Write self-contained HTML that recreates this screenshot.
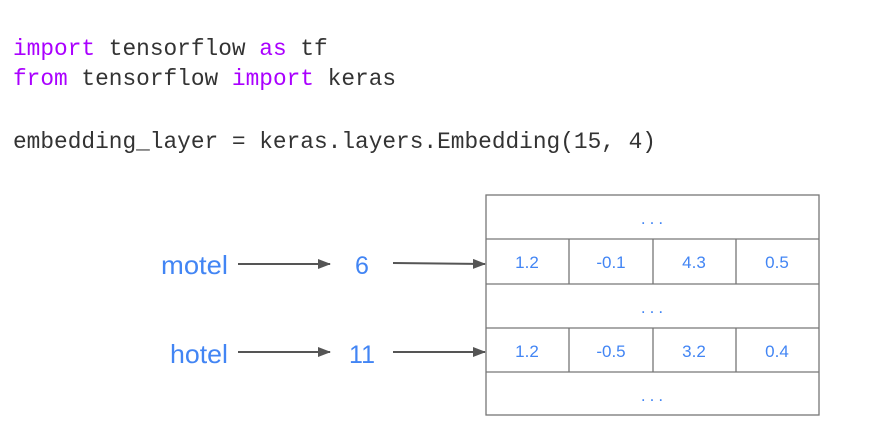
<!DOCTYPE html>
<html><head><meta charset="utf-8"><style>
html,body{margin:0;padding:0;background:#fff;}
svg{display:block}
.code{font-family:"Liberation Mono",monospace;font-size:22.8px;fill:#333}
.kw{fill:#aa00ff}
.b{font-family:"Liberation Sans",sans-serif;fill:#4285f4}
</style></head><body>
<svg width="889" height="444" viewBox="0 0 889 444" xmlns="http://www.w3.org/2000/svg">
<text class="code" x="13" y="55" xml:space="preserve"><tspan class="kw">import</tspan> tensorflow <tspan class="kw">as</tspan> tf</text>
<text class="code" x="13" y="85" xml:space="preserve"><tspan class="kw">from</tspan> tensorflow <tspan class="kw">import</tspan> keras</text>
<text class="code" x="13" y="148" xml:space="preserve">embedding_layer = keras.layers.Embedding(15, 4)</text>
<defs><marker id="a" markerWidth="13" markerHeight="10" refX="12" refY="5" orient="auto" markerUnits="userSpaceOnUse"><path d="M0,0 L13,5 L0,10 z" fill="#555"/></marker></defs>
<g stroke="#777" stroke-width="1.3" fill="none">
<rect x="486" y="195" width="333" height="220"/>
<line x1="486" y1="239" x2="819" y2="239"/>
<line x1="486" y1="284" x2="819" y2="284"/>
<line x1="486" y1="328" x2="819" y2="328"/>
<line x1="486" y1="372" x2="819" y2="372"/>
<line x1="569" y1="239" x2="569" y2="284"/><line x1="653" y1="239" x2="653" y2="284"/><line x1="736" y1="239" x2="736" y2="284"/>
<line x1="569" y1="328" x2="569" y2="372"/><line x1="653" y1="328" x2="653" y2="372"/><line x1="736" y1="328" x2="736" y2="372"/>
</g>
<g stroke="#555" stroke-width="2" marker-end="url(#a)">
<line x1="238" y1="264" x2="330" y2="264"/>
<line x1="393" y1="263" x2="485" y2="264"/>
<line x1="238" y1="352" x2="330" y2="352"/>
<line x1="393" y1="352" x2="485" y2="352"/>
</g>
<g class="b" font-size="26" text-anchor="end">
<text x="228" y="274" textLength="67" lengthAdjust="spacingAndGlyphs">motel</text>
<text x="228" y="363" textLength="58" lengthAdjust="spacingAndGlyphs">hotel</text>
</g>
<g class="b" font-size="25" text-anchor="middle">
<text x="362" y="274">6</text>
<text x="362" y="363">11</text>
</g>
<g class="b" font-size="17" text-anchor="middle">
<text x="527" y="268">1.2</text><text x="611" y="268">-0.1</text><text x="694" y="268">4.3</text><text x="777" y="268">0.5</text>
<text x="527" y="357">1.2</text><text x="611" y="357">-0.5</text><text x="694" y="357">3.2</text><text x="777" y="357">0.4</text>
</g>
<g class="b" font-size="17" text-anchor="middle" letter-spacing="4">
<text x="654" y="224">...</text><text x="654" y="313">...</text><text x="654" y="401">...</text>
</g>
</svg>
</body></html>
